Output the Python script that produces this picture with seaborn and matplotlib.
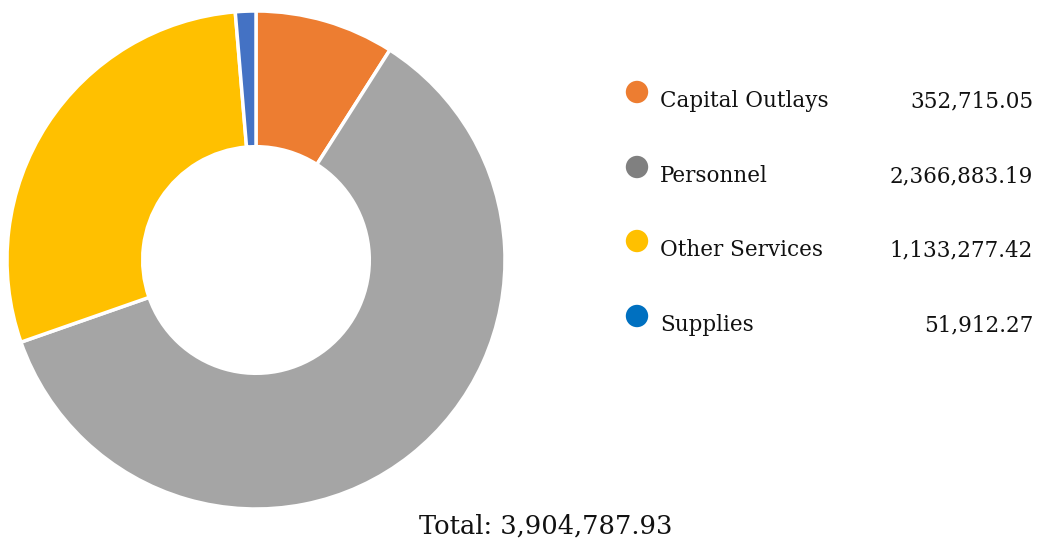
import matplotlib
matplotlib.use("Agg")
import matplotlib.pyplot as plt
import seaborn as sns

# Data
categories = ["Capital Outlays", "Personnel", "Other Services", "Supplies"]
amounts = [352715.05, 2366883.19, 1133277.42, 51912.27]
total_label = "Total: 3,904,787.93"

slice_colors = ["#ED7D31", "#A5A5A5", "#FFC000", "#4472C4"]
legend_colors = ["#ED7D31", "#808080", "#FFC000", "#0070C0"]

sns.set_theme(style="white")
plt.rcParams["font.family"] = ["DejaVu Serif", "DejaVu Sans"]

W, H = 1043, 546
fig = plt.figure(figsize=(W / 100, H / 100), dpi=100)

# Donut chart
cx, cy, r = 256, 260, 249
ax = fig.add_axes([(cx - r) / W, (H - cy - r) / H, 2 * r / W, 2 * r / H])
ax.pie(
    amounts,
    colors=slice_colors,
    startangle=90,
    counterclock=False,
    radius=1,
    wedgeprops=dict(width=0.545, edgecolor="white", linewidth=2.5),
)
ax.set_xlim(-1, 1)
ax.set_ylim(-1, 1)
ax.set_aspect("equal")
ax.axis("off")

# Legend with values
leg = fig.add_axes([0, 0, 1, 1])
leg.set_xlim(0, W)
leg.set_ylim(H, 0)
leg.axis("off")

row_y = [92, 167, 241, 316]
for name, value, color, y in zip(categories, amounts, legend_colors, row_y):
    leg.scatter(637, y, s=260, color=color, edgecolor="none")
    leg.text(660, y + 9, name, fontsize=15.5, va="center", ha="left", color="#111111")
    leg.text(1033, y + 9, f"{value:,.2f}", fontsize=15.5, va="center", ha="right", color="#111111")

leg.text(546, 526, total_label, fontsize=18.5, va="center", ha="center", color="#111111")

fig.savefig("out.png", dpi=100, facecolor="white")
